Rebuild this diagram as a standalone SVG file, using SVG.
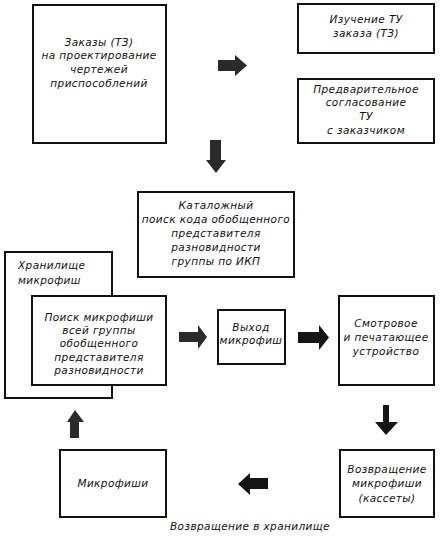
<svg xmlns="http://www.w3.org/2000/svg" width="445" height="537" viewBox="0 0 445 537">
<style>
.box{fill:#fff;stroke:#111;stroke-width:2}
.t{font-family:"DejaVu Sans",sans-serif;font-style:italic;font-size:10.5px;fill:#111;text-anchor:middle;letter-spacing:0.4px}
.l{text-anchor:start}
.ar{fill:#151515}
.ag{fill:#2a2a2a}
</style>
<rect width="445" height="537" fill="#fff"/>
<g id="n1"><rect class="box" x="33" y="5" width="133" height="138"/>
<text class="t" x="99" y="46">Заказы (ТЗ)</text>
<text class="t" x="99" y="59">на проектирование</text>
<text class="t" x="99" y="73">чертежей</text>
<text class="t" x="99" y="87">приспособлений</text></g>
<g id="n2"><rect class="box" x="298" y="4" width="136" height="49"/>
<text class="t" x="366" y="23">Изучение ТУ</text>
<text class="t" x="366" y="37">заказа (ТЗ)</text></g>
<g id="n3"><rect class="box" x="298" y="79" width="136" height="64"/>
<text class="t" x="366" y="93">Предварительное</text>
<text class="t" x="366" y="106">согласование</text>
<text class="t" x="366" y="120">ТУ</text>
<text class="t" x="366" y="134">с заказчиком</text></g>
<g id="n4"><rect class="box" x="138" y="192" width="156" height="85"/>
<text class="t" x="216" y="209">Каталожный</text>
<text class="t" x="216" y="223">поиск кода обобщенного</text>
<text class="t" x="216" y="237">представителя</text>
<text class="t" x="216" y="251">разновидности</text>
<text class="t" x="216" y="265">группы по ИКП</text></g>
<g id="n5"><rect class="box" x="5" y="252" width="107" height="146"/>
<text class="t l" x="18" y="269">Хранилище</text>
<text class="t l" x="18" y="284">микрофиш</text></g>
<g id="n6"><rect class="box" x="32" y="296" width="134" height="89"/>
<text class="t" x="99" y="321">Поиск микрофиши</text>
<text class="t" x="99" y="334">всей группы</text>
<text class="t" x="99" y="347">обобщенного</text>
<text class="t" x="99" y="361">представителя</text>
<text class="t" x="99" y="374">разновидности</text></g>
<g id="n7"><rect class="box" x="218" y="310" width="67" height="54"/>
<text class="t" x="251" y="331">Выход</text>
<text class="t" x="251" y="344">микрофиш</text></g>
<g id="n8"><rect class="box" x="339" y="296" width="95" height="89"/>
<text class="t" x="386" y="327">Смотровое</text>
<text class="t" x="386" y="341">и печатающее</text>
<text class="t" x="386" y="355">устройство</text></g>
<g id="n9"><rect class="box" x="340" y="450" width="94" height="67"/>
<text class="t" x="387" y="473">Возвращение</text>
<text class="t" x="387" y="487">микрофиши</text>
<text class="t" x="387" y="502">(кассеты)</text></g>
<g id="n10"><rect class="box" x="60" y="450" width="106" height="67"/>
<text class="t" x="113" y="487">Микрофиши</text></g>
<g id="connectors">
<path class="ag" d="M218,60 H235 V55 L247,65.5 L235,76 V71 H218 Z"/>
<path class="ag" d="M210,140 H221 V160 H226 L216,173 L206,160 H210 Z"/>
<path class="ag" d="M179,332 H198 V325 L207,337 L198,349 V342 H179 Z"/>
<path class="ar" d="M298,332 H319 V325 L329,337.5 L319,350 V343 H298 Z"/>
<path class="ar" d="M383,405 H389 V422 H398 L386,435 L375,422 H383 Z"/>
<path class="ar" d="M268,478 V489 H250 V495 L238,484 L250,473 V478 Z"/>
<path class="ag" d="M70,438 V422 H67 L75,410 L84,422 H79 V438 Z"/>
</g>
<text class="t" x="250" y="530">Возвращение в хранилище</text>
</svg>
